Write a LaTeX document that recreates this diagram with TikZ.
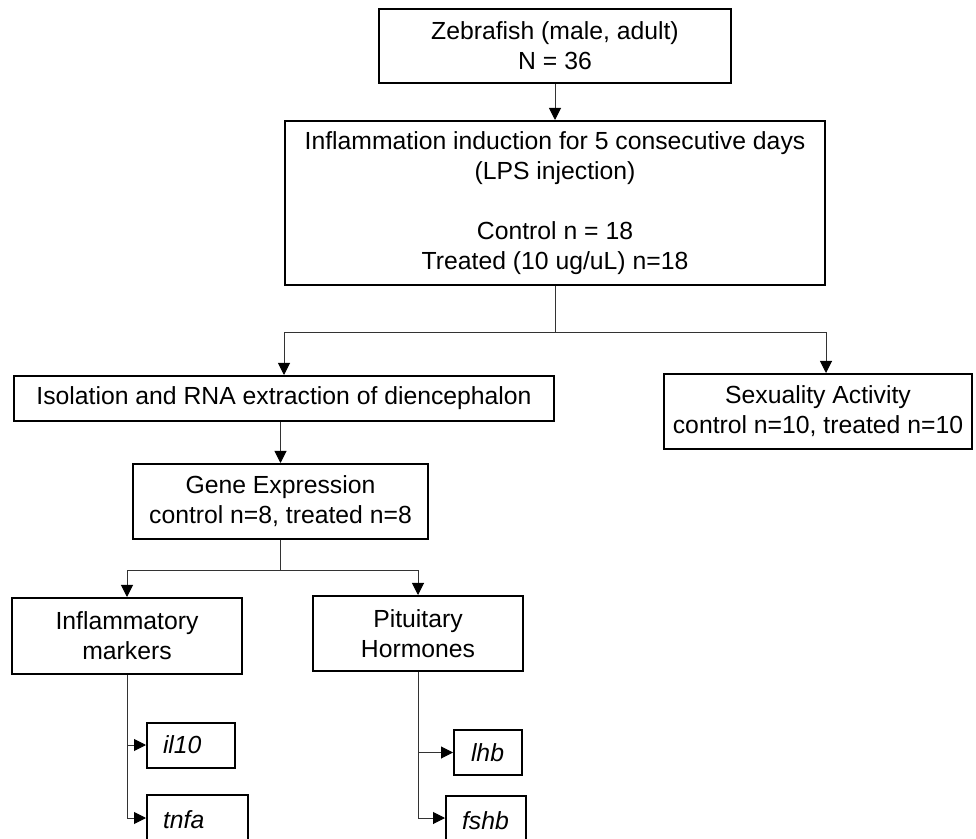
\documentclass[tikz,border=0pt]{standalone}
\usepackage{fontspec}
\setmainfont{Liberation Sans}
\usetikzlibrary{arrows.meta}

\begin{document}
\begin{tikzpicture}[x=0.25mm,y=-0.25mm]
            \tikzset{BoxStyle/.style={draw,line width=0.5mm,align=center,inner sep=0pt,
                       font=\fontsize{17.6}{21.3}\selectfont}};
            \tikzset{GeneStyle/.style={draw,line width=0.5mm,align=left,inner xsep=4mm,inner ysep=0pt,
                       minimum height=11.25mm,font=\fontsize{17.6}{21.3}\selectfont\itshape}};
            \tikzset{LinkStyle/.style={line width=0.25mm,black!80,-{Triangle[length=3mm,width=3mm,black]}}};
            \useasboundingbox (0,0) rectangle (976,839);

            \node[BoxStyle,minimum width=88mm,minimum height=18.5mm] (zebra) at (555,46)
               {Zebrafish (male, adult)\\N = 36};
            \node[BoxStyle,minimum width=135mm,minimum height=41mm] (lps) at (555,203)
               {Inflammation induction for 5 consecutive days\\(LPS injection)\\[21.3pt]Control n = 18\\Treated (10 ug/uL) n=18};

            \node[BoxStyle,minimum width=135mm,minimum height=11.25mm] (isol) at (284,398.5)
               {Isolation and RNA extraction of diencephalon};
            \node[BoxStyle,minimum width=77mm,minimum height=18.75mm] (sexual) at (818,411.5)
               {Sexuality Activity\\control n=10, treated n=10};

            \node[BoxStyle,minimum width=73.75mm,minimum height=18.75mm] (geneexp) at (280.5,501.5)
               {Gene Expression\\control n=8, treated n=8};

            \node[BoxStyle,minimum width=57.5mm,minimum height=19mm] (inflam) at (127,636)
               {Inflammatory\\markers};
            \node[BoxStyle,minimum width=52.5mm,minimum height=18.75mm] (pituit) at (418,633.5)
               {Pituitary\\Hormones};

            \node[GeneStyle,text width=14mm] (il10) at (191,745) {il10};
            \node[GeneStyle,text width=17.25mm,minimum height=12.5mm] (tnfa) at (197.5,820) {tnfa};
            \node[GeneStyle,text width=8.5mm,inner xsep=4.25mm] (lhb) at (488,752.5) {lhb};
            \node[GeneStyle,text width=12mm,minimum height=12.5mm] (fshb) at (486,821) {fshb};

            \coordinate (split1) at ([yshift=-11.5mm]lps.south);
            \coordinate (split2) at ([yshift=-7.5mm]geneexp.south);

            \draw[LinkStyle] (zebra) -- (lps);
            \draw[LinkStyle] (lps.south) -- (split1) -| (isol.north);
            \draw[LinkStyle] (split1) -| ([xshift=2mm]sexual.north);
            \draw[LinkStyle] (isol.south -| geneexp.north) -- (geneexp.north);
            \draw[LinkStyle] (geneexp.south) -- (split2) -| (inflam.north);
            \draw[LinkStyle] (split2) -| (pituit.north);
            \draw[LinkStyle] (inflam.south) |- ([yshift=0.5mm]tnfa.west);
            \draw[LinkStyle] (inflam.south |- il10.west) -- (il10.west);
            \draw[LinkStyle] (pituit.south) |- ([yshift=0.75mm]fshb.west);
            \draw[LinkStyle] (pituit.south |- lhb.west) -- (lhb.west);
\end{tikzpicture}
\end{document}
